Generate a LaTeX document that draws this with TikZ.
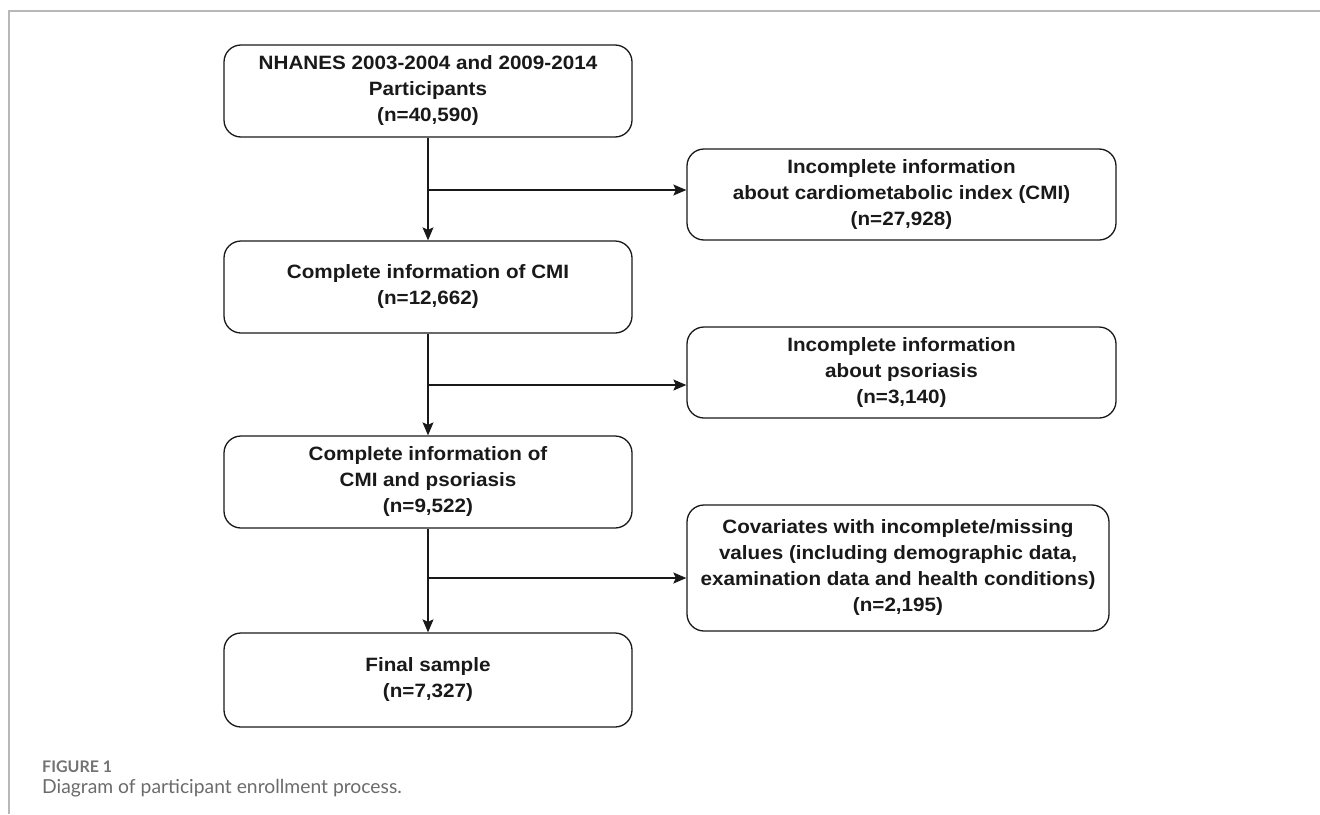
\documentclass[tikz,border=0pt]{standalone}
\usepackage{fontspec}
\setmainfont{Liberation Sans}
\newfontfamily\boxfont[FakeStretch=1.07]{Liberation Sans}
\newfontfamily\capfont{Lato}
\usepackage{tikz}
\usetikzlibrary{arrows.meta,calc}

\begin{document}
\begin{tikzpicture}[x=1pt,y=-1pt,
	box/.style={draw=black!90, line width=1.3pt, rounded corners=17pt, align=center, minimum width=408pt, minimum height=92pt, inner sep=0pt, font=\boxfont\bfseries\fontsize{19.3}{26}\selectfont, text=black!90},
	exbox/.style={box, minimum width=429pt, minimum height=91pt},
	arr/.style={draw=black!90, line width=1.3pt, -{Stealth[length=13pt,width=11pt,inset=2.5pt]}}]
	\useasboundingbox (0,0) rectangle (1320,814);
	
	%Rahmen
	\draw[black!28, line width=1.4pt] (1320,11) -- (9,11) -- (9,814);
	
	%Hauptstrang
	\node[box] (nhanes) at (428,91) {NHANES 2003-2004 and 2009-2014\\Participants\\(n=40,590)};
	\node[box] (cmi) at (428,287) {Complete information of CMI\\(n=12,662)};
	\node[box] (psor) at (428,482) {Complete information of\\CMI and psoriasis\\(n=9,522)};
	\node[box, minimum height=94pt] (final) at (428,680) {Final sample\\(n=7,327)};
	
	%Ausschluesse
	\node[exbox] (excmi) at (901.5,194.5) {Incomplete information\\about cardiometabolic index (CMI)\\(n=27,928)};
	\node[exbox] (expsor) at (901.5,372.5) {Incomplete information\\about psoriasis\\(n=3,140)};
	\node[exbox, minimum width=422pt, minimum height=126pt] (excov) at (898,568) {Covariates with incomplete/missing\\values (including demographic data,\\examination data and health conditions)\\(n=2,195)};
	
	%Abzweigpunkte
	\coordinate (k1) at (428,190);
	\coordinate (k2) at (428,385);
	\coordinate (k3) at (428,578);
	
	\draw[arr] (nhanes) -- (cmi);
	\draw[arr] (cmi) -- (psor);
	\draw[arr] (psor) -- (final);
	\draw[arr] (k1) -- (k1 -| excmi.west);
	\draw[arr] (k2) -- (k2 -| expsor.west);
	\draw[arr] (k3) -- (k3 -| excov.west);
	
	%Bildunterschrift
	\node[anchor=west, inner sep=0pt, text=black!55, font=\capfont\bfseries\fontsize{16}{18}\selectfont] (fig) at (42,767) {FIGURE 1};
	\node[anchor=west, inner sep=0pt, text=black!58, font=\capfont\fontsize{19.3}{22}\selectfont] (cap) at (42,788) {Diagram of participant enrollment process.};
\end{tikzpicture}
\end{document}
